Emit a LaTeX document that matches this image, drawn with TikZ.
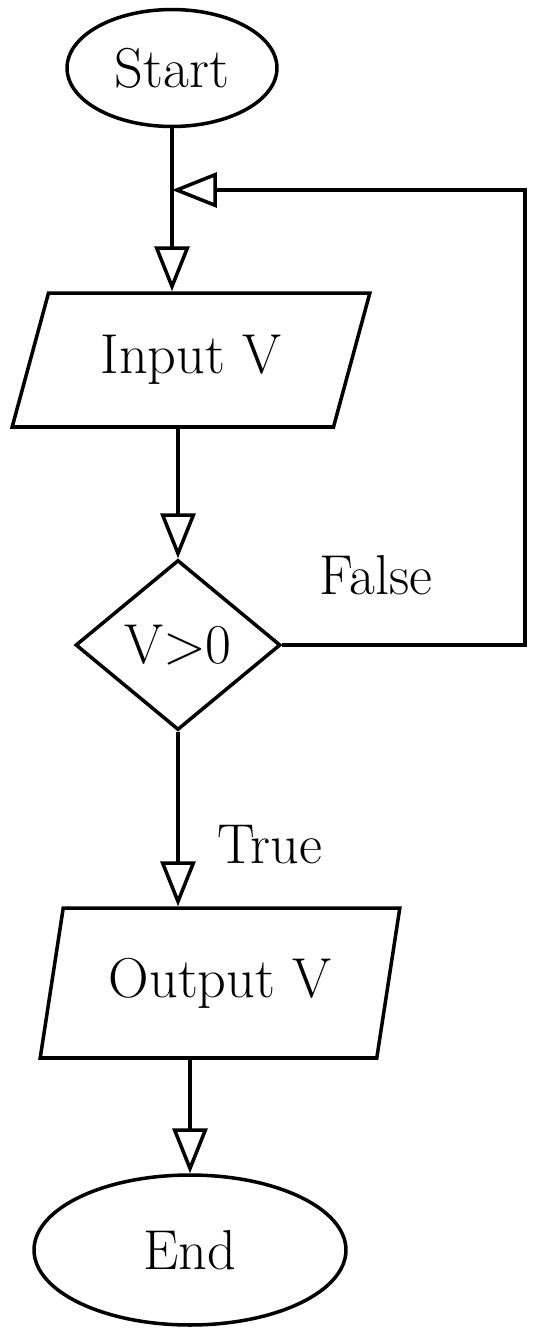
\documentclass[tikz,border=0pt]{standalone}
\usepackage{fontspec}
\usepackage{tikz}
\usetikzlibrary{arrows.meta}
\usetikzlibrary{shapes.geometric}

\begin{document}
\begin{tikzpicture}[
        x=0.02cm, y=-0.02cm,
        every node/.style={font=\fontsize{32}{36}\selectfont},
        term/.style={draw, ellipse, line width=2pt, inner sep=0pt},
        io/.style={draw, trapezium, trapezium stretches=true, line width=2pt, inner sep=0pt},
        decide/.style={draw, diamond, line width=2pt, inner sep=0pt, minimum width=4.1cm, minimum height=3.4cm},
        arrow/.style={-{Triangle[open, length=9mm, width=7mm]}, line width=2pt},
        line/.style={line width=2pt}
      ]
        \useasboundingbox (0,0) rectangle (546,1333);
        \node[term, minimum width=4.2cm, minimum height=2.34cm] (start) at (172,68) {Start};
        \node[io, trapezium left angle=65, trapezium right angle=115, minimum width=7.16cm, minimum height=2.68cm] (input) at (191,360) {Input V};
        \node[decide] (test) at (178,645) {V>0};
        \node[io, trapezium left angle=72, trapezium right angle=108, minimum width=7.2cm, minimum height=3cm] (output) at (220,983) {Output V};
        \node[term, minimum width=6.24cm, minimum height=3cm] (stop) at (190,1250) {End};
        \node (false) at (376,575) {False};
        \node (true) at (270,845) {True};
        \coordinate (join) at (start.south |- 0,190);
        \coordinate (turn) at (525,190);
        \draw[arrow] (start.south) -- (start.south |- input.north);
        \draw[arrow] (input.south -| test.north) -- (test.north);
        \draw[arrow] (test.south) -- (test.south |- output.north);
        \draw[arrow] (output.south -| stop.north) -- (stop.north);
        \draw[arrow] (test.east) -| (turn) -- (join);
      \end{tikzpicture}
\end{document}
